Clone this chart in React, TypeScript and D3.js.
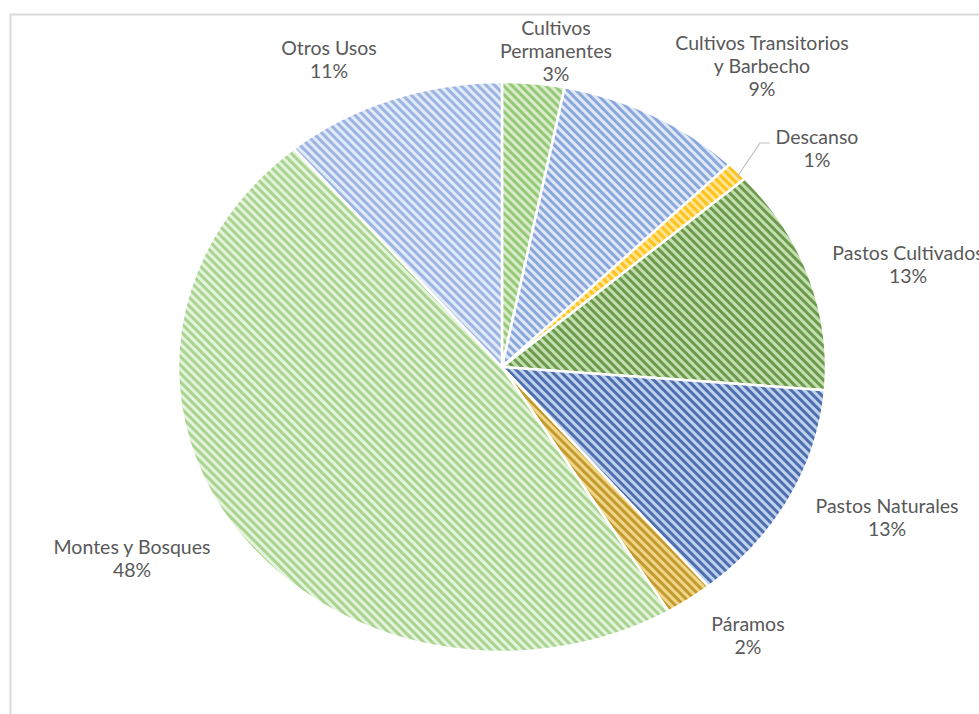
import React from "react";
import * as d3 from "d3";

const categories = [
  "Cultivos Permanentes",
  "Cultivos Transitorios y Barbecho",
  "Descanso",
  "Pastos Cultivados",
  "Pastos Naturales",
  "Páramos",
  "Montes y Bosques",
  "Otros Usos",
];
const values = [3.1, 9.3, 1.1, 12.8, 12.7, 2.4, 47.5, 11.1];
const percentLabels = ["3%", "9%", "1%", "13%", "13%", "2%", "48%", "11%"];
const labelLines = [
  ["Cultivos", "Permanentes"],
  ["Cultivos Transitorios", "y Barbecho"],
  ["Descanso"],
  ["Pastos Cultivados"],
  ["Pastos Naturales"],
  ["Páramos"],
  ["Montes y Bosques"],
  ["Otros Usos"],
];
const fills = [
  { bg: "#d9ecca", fg: "#94c978" },
  { bg: "#e0e8f6", fg: "#8aa7dc" },
  { bg: "#ffe593", fg: "#ffc21a" },
  { bg: "#c4deb0", fg: "#6c9a4c" },
  { bg: "#c0d1ee", fg: "#4d6fae" },
  { bg: "#f0d688", fg: "#c39a2e" },
  { bg: "#e6f3dc", fg: "#a9d491" },
  { bg: "#e2eaf7", fg: "#9cb4e1" },
];
const labelPos: [number, number][] = [
  [556, 30],
  [762, 45],
  [817, 139],
  [908, 255],
  [887, 508],
  [748, 626],
  [132, 549],
  [329, 50],
];

const W = 979;
const H = 714;
const cx = 502;
const cy = 367;
const rx = 324;
const ry = 285;

function pt(a: number): [number, number] {
  return [cx + rx * Math.sin(a), cy - ry * Math.cos(a)];
}

export default function App() {
  const pie = d3.pie<number>().sort(null).value((d) => d);
  const arcs = pie(values);
  const lineH = 23;
  return (
    <svg
      width={W}
      height={H}
      style={{ position: "absolute", left: 0, top: 0, background: "#fff" }}
      fontFamily="Lato, 'Open Sans', sans-serif"
    >
      <defs>
        {fills.map((f, i) => (
          <pattern
            key={i}
            id={`p${i}`}
            patternUnits="userSpaceOnUse"
            width={6}
            height={6}
            patternTransform="rotate(-45)"
          >
            <rect width={6} height={6} fill={f.bg} />
            <rect width={3} height={6} fill={f.fg} />
          </pattern>
        ))}
      </defs>
      <rect x={0} y={0} width={W} height={H} fill="#fff" />
      <path d={`M10.5,${H} V14.5 H${W}`} fill="none" stroke="#d9d9d9" strokeWidth={2} />
      <g>
        {arcs.map((a, i) => {
          const p0 = pt(a.startAngle);
          const p1 = pt(a.endAngle);
          const large = a.endAngle - a.startAngle > Math.PI ? 1 : 0;
          const d = `M${cx},${cy}L${p0[0]},${p0[1]}A${rx},${ry} 0 ${large} 1 ${p1[0]},${p1[1]}Z`;
          return (
            <path
              key={i}
              d={d}
              fill={`url(#p${i})`}
              stroke="#fff"
              strokeWidth={2.5}
              strokeLinejoin="round"
            />
          );
        })}
      </g>
      <polyline
        points="737,177 760,143 770,143"
        fill="none"
        stroke="#bfbfbf"
        strokeWidth={1.2}
      />
      {categories.map((c, i) => {
        const [x, y] = labelPos[i];
        const lines = [...labelLines[i], percentLabels[i]];
        return (
          <text
            key={c}
            x={x}
            y={y}
            textAnchor="middle"
            fontSize={19.5}
            fill="#595959"
            dominantBaseline="middle"
          >
            {lines.map((l, j) => (
              <tspan key={j} x={x} y={y + j * lineH}>
                {l}
              </tspan>
            ))}
          </text>
        );
      })}
    </svg>
  );
}
